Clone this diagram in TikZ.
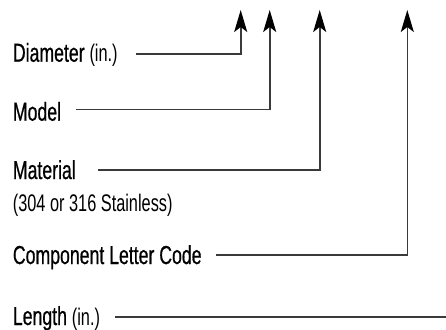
\documentclass[tikz,border=0pt]{standalone}
\usepackage{fontspec}
\setmainfont{Liberation Sans}[FakeStretch=0.68, FakeBold=0.6]
\newfontfamily\notefont{Liberation Sans}[FakeStretch=0.68]
\usetikzlibrary{arrows.meta}
\definecolor{leaderGray}{HTML}{3a3a3a}
\newcommand{\notesize}{\notefont\fontsize{24}{28}\selectfont}

\begin{document}
\begin{tikzpicture}[x=1pt, y=-1pt,
    lbl/.style={anchor=base west, inner sep=0pt, font=\fontsize{26}{30}\selectfont},
    note/.style={font=\notesize},
    lead/.style={line width=1.6pt, leaderGray, -{Stealth[black, length=22pt, width=13pt, inset=5pt]}}]
    \useasboundingbox (0, 0) rectangle (446, 329);

    \node[lbl] (diam) at (12.7, 61.7) {Diameter {\notesize (in.)}};
    \node[lbl] (model) at (12.7, 120.7) {Model};
    \node[lbl] (mat) at (12.7, 179) {Material};
    \node[lbl, note] (matnote) at (12.7, 211) {(304 or 316 Stainless)};
    \node[lbl] (comp) at (12.7, 264) {Component Letter Code};
    \node[lbl] (len) at (12.7, 325) {Length {\notesize (in.)}};

    \coordinate (tipDiam) at (240.7, 10);
    \coordinate (tipModel) at (269.7, 10);
    \coordinate (tipMat) at (319.7, 10);
    \coordinate (tipComp) at (407.3, 10);
    \coordinate (lenEnd) at (446, 316.7);

    \draw[lead] ([shift={(18, -7.7)}]diam.base east) -| (tipDiam);
    \draw[lead] ([shift={(15, -11.4)}]model.base east) -| (tipModel);
    \draw[lead] ([shift={(22.5, -9)}]mat.base east) -| (tipMat);
    \draw[lead] ([shift={(14, -9)}]comp.base east) -| (tipComp);
    \draw[line width=1.6pt, leaderGray] ([shift={(15, -8.3)}]len.base east) -- (lenEnd);
\end{tikzpicture}
\end{document}
